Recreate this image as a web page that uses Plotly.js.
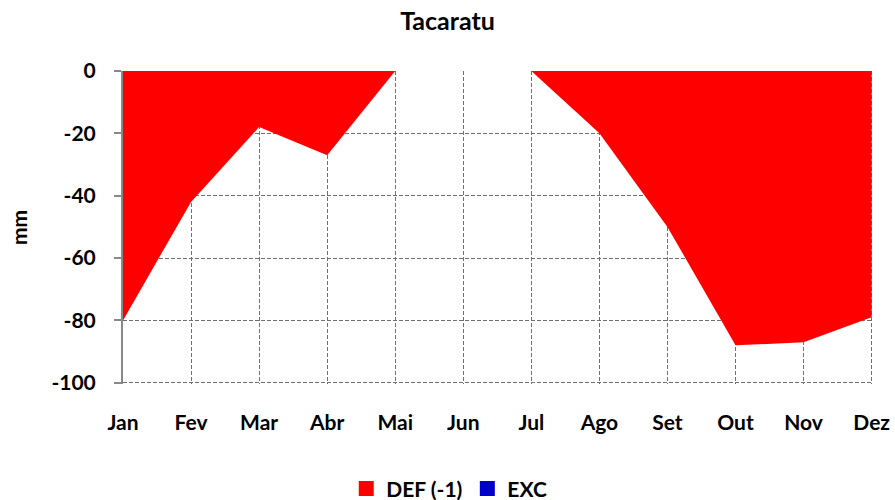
<!DOCTYPE html>
<html>
<head>
<meta charset="utf-8">
<script src="https://cdn.plot.ly/plotly-3.0.1.min.js"></script>
<style>html,body{margin:0;padding:0;background:#fff;}#chart{width:895px;height:500px;}</style>
</head>
<body>
<div id="chart"></div>
<script>
const months = ['Jan','Fev','Mar','Abr','Mai','Jun','Jul','Ago','Set','Out','Nov','Dez'];
const defValues = [-80, -42, -18, -27, 0, 0, 0, -20, -50, -88, -87, -79];
const excValues = [0, 0, 0, 0, 0, 0, 0, 0, 0, 0, 0, 0];
const yTicks = [0, -20, -40, -60, -80, -100];
const seriesNames = ['DEF (-1)', 'EXC'];
const seriesColors = ['#FF0000', '#0000CC'];

const fontFam = 'Lato, "Open Sans", sans-serif';

const traces = [
  {
    x: months, y: defValues, name: seriesNames[0], type: 'scatter', mode: 'lines',
    fill: 'tozeroy', fillcolor: seriesColors[0], line: {width: 0, color: seriesColors[0]},
    showlegend: false, legendgroup: 'def'
  },
  {
    x: months, y: excValues, name: seriesNames[1], type: 'scatter', mode: 'lines',
    fill: 'tozeroy', fillcolor: seriesColors[1], line: {width: 0, color: seriesColors[1]},
    showlegend: false, legendgroup: 'exc'
  },
  {
    x: [null], y: [null], name: seriesNames[0], type: 'scatter', mode: 'markers',
    marker: {symbol: 'square', size: 15, color: seriesColors[0]}, legendgroup: 'def'
  },
  {
    x: [null], y: [null], name: seriesNames[1], type: 'scatter', mode: 'markers',
    marker: {symbol: 'square', size: 15, color: seriesColors[1]}, legendgroup: 'exc'
  }
];

const gridCol = '#707070';
const layout = {
  width: 895, height: 500,
  margin: {l: 123, r: 22, t: 71, b: 116, autoexpand: false},
  paper_bgcolor: '#fff', plot_bgcolor: '#fff',
  font: {family: fontFam, size: 16, color: '#000'},
  title: {text: '<b>Tacaratu</b>', x: 0.5, xanchor: 'center', y: 0.958, yanchor: 'middle',
          font: {family: fontFam, size: 25, color: '#000'}},
  xaxis: {
    type: 'category', categoryorder: 'array', categoryarray: months,
    range: [0, 11.02], showline: false, zeroline: false,
    showgrid: true, gridcolor: gridCol, griddash: '4px,2px', gridwidth: 1,
    ticks: '', tickfont: {family: fontFam, size: 21, color: '#000', weight: 'bold'},
    ticklabelstandoff: 24, automargin: false
  },
  xaxis2: {
    overlaying: 'x', side: 'top', anchor: 'y', range: [0, 11.02],
    tickmode: 'linear', tick0: 0, dtick: 1, showticklabels: false,
    showline: true, linecolor: '#000', linewidth: 2,
    ticks: 'inside', ticklen: 7, tickwidth: 2, tickcolor: '#000',
    showgrid: false, zeroline: false, automargin: false
  },
  yaxis: {
    range: [-100.4, 0], tickvals: yTicks, ticktext: yTicks.map(String),
    showline: true, linecolor: '#888', linewidth: 2,
    ticks: 'outside', ticklen: 7, tickwidth: 2, tickcolor: '#888',
    showgrid: true, gridcolor: gridCol, griddash: '4px,2px', gridwidth: 1,
    zeroline: false, automargin: false,
    tickfont: {family: fontFam, size: 21, color: '#000', weight: 'bold'},
    ticklabelstandoff: 14,
    title: {text: '<b>mm</b>', font: {family: fontFam, size: 21, color: '#000'}, standoff: 18}
  },
  showlegend: true,
  legend: {orientation: 'h', x: 0.435, xanchor: 'center', y: -0.335, yanchor: 'middle',
           font: {family: fontFam, size: 21, color: '#000', weight: 'bold'},
           itemwidth: 20, tracegroupgap: 0}
};

Plotly.newPlot('chart', traces, layout, {displayModeBar: false, staticPlot: true});
</script>
</body>
</html>
